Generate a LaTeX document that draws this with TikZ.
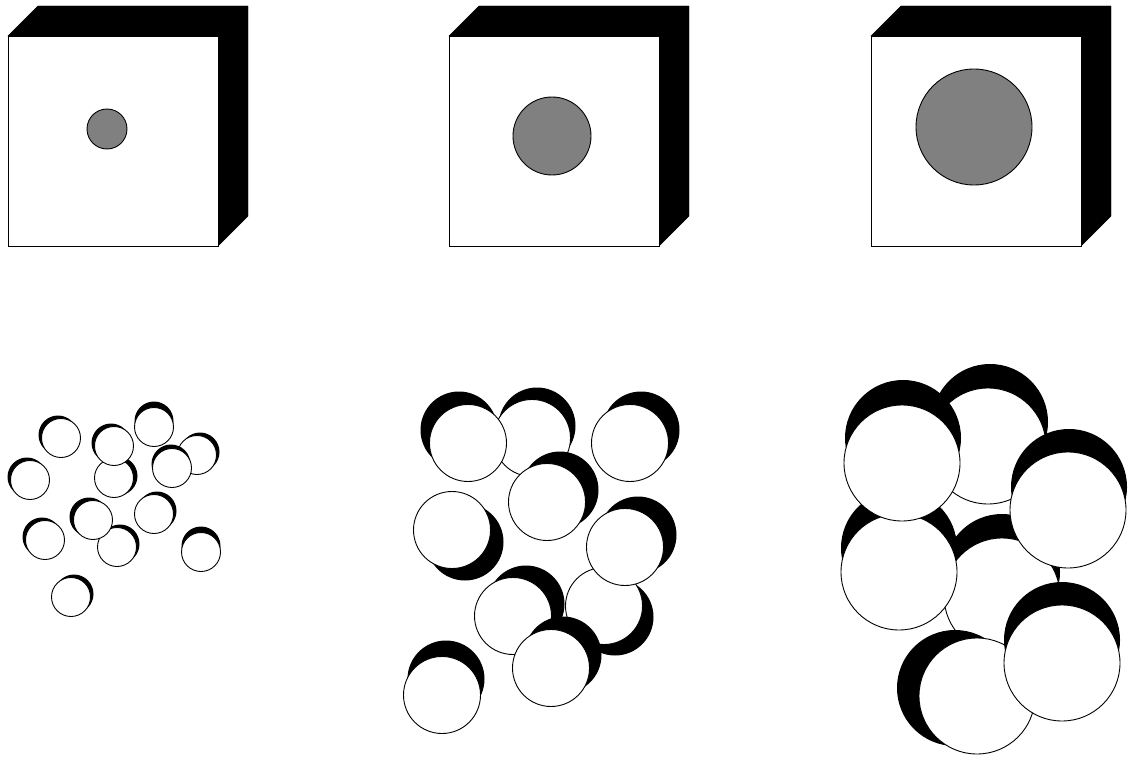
\documentclass[tikz,border=0pt]{standalone}
\usepackage{tikz}
\usetikzlibrary{calc}
\definecolor{coregray}{RGB}{128,128,128}
\tikzset{
  % kub yuzlari
  cubefront/.style = {fill=white, draw=black, line width=0.9pt},
  cubeshade/.style = {fill=black, draw=black},
  % markaziy doira
  coredisk/.style  = {fill=coregray, draw=black, line width=0.9pt},
  % sharchalar
  beadface/.style  = {fill=white, draw=black, line width=0.9pt},
  beadshade/.style = {fill=black},
}
% sharcha: markaz, radius, soya siljishi
\newcommand{\bead}[5]{%
  \fill[beadshade] (#1+#4,#2+#5) circle (#3);
  \draw[beadface] (#1,#2) circle (#3);
}

\begin{document}
\begin{tikzpicture}[x=1pt,y=-1pt]
  \useasboundingbox (0,0) rectangle (1130,757);
  % Kublar va ichki doiralar
  \foreach \xo/\cx/\cy/\cr in {8/107/129/20, 449/552/136/39, 871/974/127/58}{
    \draw[cubeshade] (\xo,36) -- (\xo+30,6) -- (\xo+240,6)
      -- (\xo+240,216) -- (\xo+210,246) -- cycle;
    \draw[cubefront] (\xo,36) rectangle (\xo+210,246);
    \draw[coredisk] (\cx,\cy) circle (\cr);
  }
  % Kichik sharchalar
  \foreach \x/\y/\dx/\dy in {114/478/4/-2, 114/446/-3/-3, 61/438/-3/-3,
      154/427/0/-6, 197/455/3/-3, 172/468/-1/-4, 30/480/-3/-3,
      117/547/3/-3, 93/520/-4/-3, 154/514/3/-3, 45/540/-3/-3,
      201/552/0/-6, 71/597/3/-3}{
    \bead{\x}{\y}{19.5}{\dx}{\dy}
  }
  % O'rta sharchalar
  \foreach \x/\y/\dx/\dy in {532/438/5/-12, 604/606/11/11, 452/530/13/12,
      513/616/13/-12, 468/443/-9/-13, 630/443/11/-13, 547/502/13/-12,
      625/547/13/-12, 551/668/12/-13, 442/695/4/-16}{
    \bead{\x}{\y}{38.5}{\dx}{\dy}
  }
  % Katta sharchalar
  \foreach \x/\y/\dx/\dy in {988/446/2/-24, 1002/596/0/-24, 899/572/0/-24,
      902/463/1/-25, 1068/510/1/-23, 977/696/-22/-8, 1062/663/0/-23}{
    \bead{\x}{\y}{58}{\dx}{\dy}
  }
\end{tikzpicture}
\end{document}
